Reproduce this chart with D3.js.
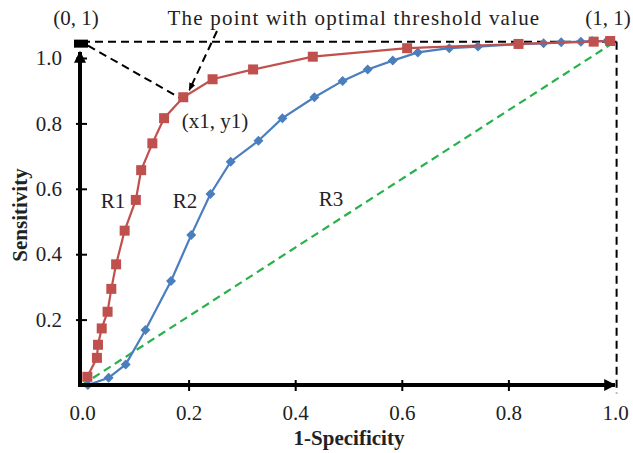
<!DOCTYPE html>
<html lang="en">
<head>
<meta charset="utf-8">
<title>ROC curves</title>
<script src="https://d3js.org/d3.v7.min.js"></script>
<style>
  body { margin: 0; background: #fff; }
  svg text { font-family: "Liberation Serif", "Times New Roman", serif; fill: #222; }
</style>
</head>
<body>
<div id="chart"></div>
<script>
// R1 curve (red squares)
var r1X = [0.010, 0.028, 0.030, 0.037, 0.048, 0.055, 0.064, 0.080, 0.101, 0.111, 0.132, 0.154, 0.190, 0.245, 0.321, 0.433, 0.610, 0.819, 0.960, 0.991];
var r1Y = [0.025, 0.083, 0.123, 0.173, 0.224, 0.294, 0.369, 0.472, 0.566, 0.657, 0.739, 0.816, 0.880, 0.935, 0.965, 1.004, 1.030, 1.043, 1.050, 1.052];

// R2 curve (blue diamonds)
var r2X = [0.011, 0.050, 0.082, 0.119, 0.167, 0.205, 0.241, 0.279, 0.331, 0.376, 0.436, 0.489, 0.536, 0.583, 0.630, 0.689, 0.743, 0.819, 0.866, 0.899, 0.936, 0.957, 0.985];
var r2Y = [0.000, 0.022, 0.063, 0.168, 0.318, 0.459, 0.584, 0.683, 0.747, 0.816, 0.880, 0.930, 0.965, 0.992, 1.017, 1.030, 1.035, 1.042, 1.045, 1.048, 1.050, 1.052, 1.052];

// R3 chance line and the reference corners
var r3X = [0, 1];
var r3Y = [0, 1.05];
var topY = 1.05;
var optimalPt = [0.190, 0.880];

var xTicks = [0, 0.2, 0.4, 0.6, 0.8, 1.0];
var yTicks = [0.2, 0.4, 0.6, 0.8, 1.0];

var width = 633, height = 453;

var svg = d3.select("#chart").append("svg")
    .attr("width", width)
    .attr("height", height);

var x = d3.scaleLinear().domain([0, 1]).range([82, 615]);
var y = d3.scaleLinear().domain([0, 1]).range([385, 58]);

var r1 = r1X.map(function(d, i){ return [d, r1Y[i]]; });
var r2 = r2X.map(function(d, i){ return [d, r2Y[i]]; });
var r3 = r3X.map(function(d, i){ return [d, r3Y[i]]; });

var line = d3.line().x(function(d){ return x(d[0]); }).y(function(d){ return y(d[1]); });

// arrow heads
var defs = svg.append("defs");
defs.append("marker")
    .attr("id", "axArrow")
    .attr("viewBox", "0 0 10 10")
    .attr("refX", 9).attr("refY", 5)
    .attr("markerWidth", 3).attr("markerHeight", 3)
    .attr("markerUnits", "strokeWidth")
    .attr("orient", "auto")
  .append("path").attr("d", "M0,0 L10,5 L0,10 z").attr("fill", "#000");
defs.append("marker")
    .attr("id", "smArrow")
    .attr("viewBox", "0 0 10 10")
    .attr("refX", 9).attr("refY", 5)
    .attr("markerWidth", 4).attr("markerHeight", 4)
    .attr("markerUnits", "strokeWidth")
    .attr("orient", "auto")
  .append("path").attr("d", "M0,1 L10,5 L0,9 z").attr("fill", "#000");

// dashed guide lines
var guides = svg.append("g").attr("fill", "none").attr("stroke", "#000")
    .attr("stroke-width", 2).attr("stroke-dasharray", "8,5");
guides.append("path").attr("d", line([[0, topY], [1.003, topY]]));
guides.append("path").attr("d", line([[1.003, topY], [1.003, -0.025]]));
guides.append("line")
    .attr("x1", x(0) + 6).attr("y1", y(topY) + 4)
    .attr("x2", x(optimalPt[0]) - 1).attr("y2", y(optimalPt[1]) + 2);
guides.append("line")
    .attr("x1", 217).attr("y1", 31)
    .attr("x2", x(optimalPt[0]) + 6).attr("y2", y(optimalPt[1]) - 7)
    .attr("marker-end", "url(#smArrow)");

// R3
svg.append("path")
    .attr("d", line(r3))
    .attr("fill", "none")
    .attr("stroke", "#27b14a")
    .attr("stroke-width", 2.2)
    .attr("stroke-dasharray", "8,5");

// R2
svg.append("path")
    .attr("d", line(r2))
    .attr("fill", "none")
    .attr("stroke", "#4a7ebf")
    .attr("stroke-width", 2.2);
svg.append("g").selectAll("path")
    .data(r2)
    .enter()
    .append("path")
    .attr("d", "M0,-5 L5,0 L0,5 L-5,0 z")
    .attr("transform", function(d){ return "translate(" + x(d[0]) + "," + y(d[1]) + ")"; })
    .attr("fill", "#4a7ebf");

// R1
svg.append("path")
    .attr("d", line(r1))
    .attr("fill", "none")
    .attr("stroke", "#c0504d")
    .attr("stroke-width", 2.2);
svg.append("g").selectAll("rect")
    .data(r1)
    .enter()
    .append("rect")
    .attr("x", function(d){ return x(d[0]) - 5; })
    .attr("y", function(d){ return y(d[1]) - 5; })
    .attr("width", 10).attr("height", 10)
    .attr("fill", "#c0504d");

// axes
var xAxis = svg.append("g")
    .attr("transform", "translate(0," + y(0) + ")")
    .call(d3.axisBottom(x).tickValues(xTicks).tickFormat(d3.format(".1f")).tickSize(6).tickPadding(14));
xAxis.select(".domain").remove();
xAxis.selectAll(".tick line")
    .attr("y1", -5).attr("y2", 6)
    .attr("stroke", "#000").attr("stroke-width", 2)
    .filter(function(d){ return d === 0 || d === 1; }).remove();
xAxis.selectAll(".tick text").attr("font-size", 21).attr("fill", "#222")
    .style("font-family", "Liberation Serif");

var yAxis = svg.append("g")
    .attr("transform", "translate(" + x(0) + ",0)")
    .call(d3.axisLeft(y).tickValues(yTicks).tickFormat(d3.format(".1f")).tickSize(6).tickPadding(14));
yAxis.select(".domain").remove();
yAxis.selectAll(".tick line")
    .attr("x1", -6).attr("x2", 5)
    .attr("stroke", "#000").attr("stroke-width", 2);
yAxis.selectAll(".tick text").attr("font-size", 21).attr("fill", "#222")
    .style("font-family", "Liberation Serif");

svg.append("line")
    .attr("x1", x(0) - 2).attr("y1", y(0))
    .attr("x2", x(1)).attr("y2", y(0))
    .attr("stroke", "#000").attr("stroke-width", 4)
    .attr("marker-end", "url(#axArrow)");
svg.append("line")
    .attr("x1", x(0) - 2).attr("y1", y(0) + 2)
    .attr("x2", x(0) - 2).attr("y2", 52)
    .attr("stroke", "#000").attr("stroke-width", 4)
    .attr("marker-end", "url(#axArrow)");

// (0,1) marker
svg.append("rect")
    .attr("x", x(0) - 8).attr("y", y(topY) - 2)
    .attr("width", 14).attr("height", 8)
    .attr("fill", "#000");

// axis titles
svg.append("text")
    .attr("x", 349).attr("y", 445)
    .attr("text-anchor", "middle")
    .attr("font-size", 21).attr("font-weight", "bold")
    .text("1-Specificity");
svg.append("text")
    .attr("transform", "translate(27,215) rotate(-90)")
    .attr("text-anchor", "middle")
    .attr("font-size", 21).attr("font-weight", "bold")
    .text("Sensitivity");

// annotations
var notes = [
    {t: "(0, 1)", x: 76, y: 25, ls: 0},
    {t: "The point with optimal threshold value", x: 354, y: 25, ls: 1.2},
    {t: "(1, 1)", x: 608, y: 25, ls: 0},
    {t: "(x1, y1)", x: 215, y: 128, ls: 0},
    {t: "R1", x: 113, y: 208, ls: 0},
    {t: "R2", x: 185, y: 208, ls: 0},
    {t: "R3", x: 331, y: 206, ls: 0}
];
svg.append("g").selectAll("text")
    .data(notes)
    .enter()
    .append("text")
    .attr("x", function(d){ return d.x; })
    .attr("y", function(d){ return d.y; })
    .attr("text-anchor", "middle")
    .attr("letter-spacing", function(d){ return d.ls; })
    .attr("font-size", 21)
    .text(function(d){ return d.t; });
</script>
</body>
</html>
